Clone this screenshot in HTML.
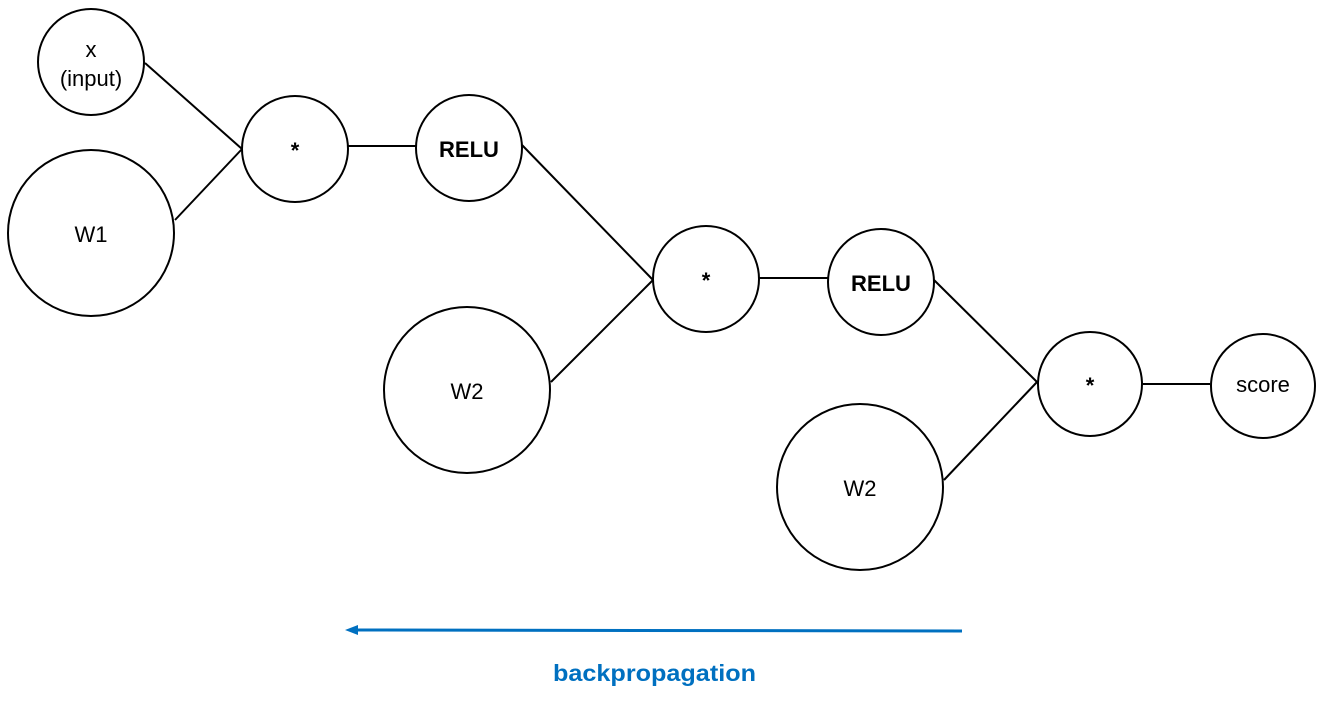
<!DOCTYPE html>
<html><head><meta charset="utf-8"><style>
html,body{margin:0;padding:0;background:#fff;}
svg{display:block;}
text{font-family:"Liberation Sans","DejaVu Sans",sans-serif;font-size:22px;fill:#000;}
</style></head><body>
<svg width="1329" height="712" viewBox="0 0 1329 712" xmlns="http://www.w3.org/2000/svg">
<g stroke="#000" stroke-width="2" fill="none">
<line x1="145" y1="63" x2="242" y2="149"/>
<line x1="175" y1="220" x2="242" y2="149"/>
<line x1="348" y1="146" x2="416" y2="146"/>
<line x1="522" y1="145" x2="653" y2="280"/>
<line x1="551" y1="382" x2="653" y2="280"/>
<line x1="759" y1="278" x2="828" y2="278"/>
<line x1="934" y1="280" x2="1037" y2="382"/>
<line x1="944" y1="480" x2="1037" y2="382"/>
<line x1="1143" y1="384" x2="1210" y2="384"/>
<circle cx="91" cy="62" r="53" fill="#fff"/>
<circle cx="91" cy="233" r="83" fill="#fff"/>
<circle cx="295" cy="149" r="53" fill="#fff"/>
<circle cx="469" cy="148" r="53" fill="#fff"/>
<circle cx="706" cy="279" r="53" fill="#fff"/>
<circle cx="467" cy="390" r="83" fill="#fff"/>
<circle cx="881" cy="282" r="53" fill="#fff"/>
<circle cx="1090" cy="384" r="52" fill="#fff"/>
<circle cx="1263" cy="386" r="52" fill="#fff"/>
<circle cx="860" cy="487" r="83" fill="#fff"/>
</g>
<g text-anchor="middle">
<text x="91" y="57">x</text>
<text x="91" y="86">(input)</text>
<text x="91" y="242">W1</text>
<text x="295" y="158" font-weight="bold">*</text>
<text x="469" y="157" font-weight="bold">RELU</text>
<text x="706" y="288" font-weight="bold">*</text>
<text x="467" y="399">W2</text>
<text x="881" y="291" font-weight="bold">RELU</text>
<text x="1090" y="393" font-weight="bold">*</text>
<text x="1263" y="392">score</text>
<text x="860" y="496">W2</text>
</g>
<text x="553" y="681" font-weight="bold" style="fill:#0070c0;font-size:23px" textLength="203" lengthAdjust="spacingAndGlyphs">backpropagation</text>
<line x1="962" y1="631" x2="356" y2="630" stroke="#0070c0" stroke-width="3"/>
<polygon points="345,630 358,625 358,635" fill="#0070c0"/>
</svg>
</body></html>
